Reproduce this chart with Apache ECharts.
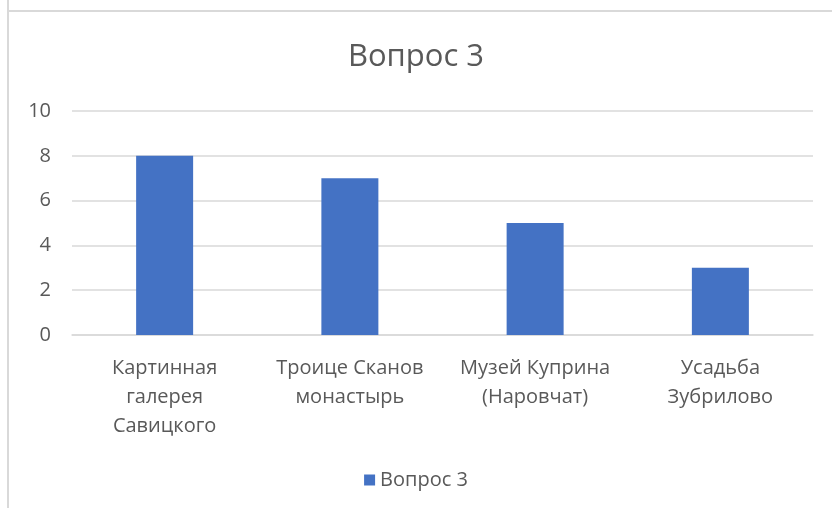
<!DOCTYPE html>
<html>
<head>
<meta charset="utf-8">
<script src="https://cdn.jsdelivr.net/npm/echarts@6/dist/echarts.min.js"></script>
<style>
  html, body { margin: 0; padding: 0; background: #fff; }
  #chart { width: 832px; height: 508px; }
</style>
</head>
<body>
<div id="chart"></div>
<script>
// Вопрос 3 — столбчатая диаграмма
const categories = ['Картинная\nгалерея\nСавицкого', 'Троице Сканов\nмонастырь', 'Музей Куприна\n(Наровчат)', 'Усадьба\nЗубрилово'];
const seriesName = 'Вопрос 3';
const values = [8, 7, 5, 3];
const yTicks = [0, 2, 4, 6, 8, 10];

const textColor = '#595959';
const fontFamily = '"Open Sans", "Noto Sans", sans-serif';

const chart = echarts.init(document.getElementById('chart'));

chart.setOption({
  animation: false,
  textStyle: { fontFamily },
  title: {
    text: seriesName,
    left: 'center',
    top: 37,
    textStyle: { fontSize: 31, fontWeight: 'normal', color: textColor, fontFamily }
  },
  legend: {
    data: [seriesName],
    bottom: 13,
    left: 'center',
    icon: 'rect',
    itemWidth: 11,
    itemHeight: 11,
    itemGap: 7,
    textStyle: { fontSize: 20, color: textColor, fontFamily }
  },
  grid: { left: 72, right: 19, top: 111, bottom: 173 },
  xAxis: {
    type: 'category',
    data: categories,
    axisLine: { lineStyle: { color: '#d9d9d9', width: 1.5 } },
    axisTick: { show: false },
    axisLabel: { fontSize: 20, color: textColor, lineHeight: 29, margin: 19, interval: 0 }
  },
  yAxis: {
    type: 'value',
    min: yTicks[0],
    max: yTicks[yTicks.length - 1],
    interval: 2,
    axisLine: { show: false },
    axisTick: { show: false },
    axisLabel: { fontSize: 20, color: textColor, margin: 21 },
    splitLine: { lineStyle: { color: '#d9d9d9', width: 1.5 } }
  },
  series: [{
    name: seriesName,
    type: 'bar',
    data: values,
    barWidth: 57,
    itemStyle: { color: '#4472c4' }
  }],
  graphic: [
    { type: 'line', shape: { x1: 8, y1: 0, x2: 8, y2: 508 }, style: { stroke: '#d9d9d9', lineWidth: 2 } },
    { type: 'line', shape: { x1: 8, y1: 11, x2: 832, y2: 11 }, style: { stroke: '#d9d9d9', lineWidth: 2 } }
  ]
});
</script>
</body>
</html>
